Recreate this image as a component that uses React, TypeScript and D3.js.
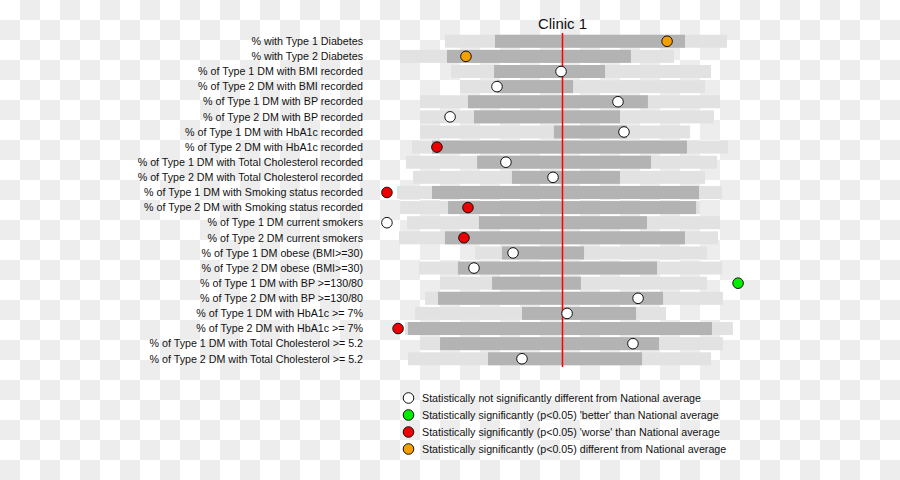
import React from "react";
import * as d3 from "d3";

const indicators: string[] = [
  "% with Type 1 Diabetes",
  "% with Type 2 Diabetes",
  "% of Type 1 DM with BMI recorded",
  "% of Type 2 DM with BMI recorded",
  "% of Type 1 DM with BP recorded",
  "% of Type 2 DM with BP recorded",
  "% of Type 1 DM with HbA1c recorded",
  "% of Type 2 DM with HbA1c recorded",
  "% of Type 1 DM with Total Cholesterol recorded",
  "% of Type 2 DM with Total Cholesterol recorded",
  "% of Type 1 DM with Smoking status recorded",
  "% of Type 2 DM with Smoking status recorded",
  "% of Type 1 DM current smokers",
  "% of Type 2 DM current smokers",
  "% of Type 1 DM obese (BMI>=30)",
  "% of Type 2 DM obese (BMI>=30)",
  "% of Type 1 DM with BP >=130/80",
  "% of Type 2 DM with BP >=130/80",
  "% of Type 1 DM with HbA1c >= 7%",
  "% of Type 2 DM with HbA1c >= 7%",
  "% of Type 1 DM with Total Cholesterol >= 5.2",
  "% of Type 2 DM with Total Cholesterol >= 5.2",
];

// Scaled values: national average = 0
const rangeLow: number[] = [-64.4, -89.0, -61.1, -56.2, -78.1, -78.1, -78.1, -82.5, -85.8, -81.9, -90.7, -89.0, -85.2, -89.6, -47.9, -78.6, -67.1, -75.3, -80.8, -86.3, -78.1, -84.7];
const rangeHigh: number[] = [90.1, 61.1, 81.4, 78.1, 86.3, 83.0, 69.9, 90.7, 84.7, 78.1, 87.4, 75.3, 86.3, 85.2, 79.2, 87.4, 79.2, 87.9, 56.7, 93.4, 87.9, 81.4];
const iqrLow: number[] = [-37.0, -63.3, -37.5, -35.9, -51.8, -48.5, -4.7, -71.5, -46.8, -27.7, -71.5, -62.7, -45.8, -64.4, -33.2, -57.3, -38.6, -68.2, -22.2, -84.7, -67.1, -40.8];
const iqrHigh: number[] = [67.1, 37.5, 23.3, 5.8, 46.8, 31.5, 35.3, 68.2, 48.5, 31.5, 74.8, 73.2, 46.3, 67.1, 11.8, 51.8, 10.1, 55.1, 40.3, 81.9, 52.9, 43.6];
const clinicValue: number[] = [57.3, -52.9, -0.8, -35.9, 30.4, -61.6, 33.7, -68.8, -31.0, -5.2, -96.2, -51.8, -96.2, -54.0, -27.1, -48.5, 96.2, 41.4, 2.5, -90.1, 38.6, -22.2];
// n = not significant, b = better, w = worse, d = different
const significance: string[] = ["d", "d", "n", "n", "n", "n", "n", "w", "n", "n", "w", "w", "n", "w", "n", "n", "b", "n", "n", "w", "n", "n"];

const legendKeys: string[] = ["n", "b", "w", "d"];
const legendLabels: string[] = [
  "Statistically not significantly different from National average",
  "Statistically significantly (p<0.05) 'better' than National average",
  "Statistically significantly (p<0.05) 'worse' than National average",
  "Statistically significantly (p<0.05) different from National average",
];
const sigColors: Record<string, string> = { n: "#ffffff", b: "#00ee00", w: "#ee0000", d: "#f5a000" };

const W = 900;
const H = 480;
const FONT = "'Liberation Sans', Arial, sans-serif";

export default function App() {
  const x = d3.scaleLinear().domain([-100, 100]).range([380, 745]);
  const y = d3
    .scaleBand<string>()
    .domain(indicators)
    .range([33.7, 33.7 + 22 * 15.12])
    .paddingInner(0.14)
    .paddingOuter(0.07);
  const bw = y.bandwidth();
  const legendY = d3.scalePoint<string>().domain(legendKeys).range([398, 449]);

  const cells: { cx: number; cy: number }[] = [];
  for (let i = 0; i < W / 20; i++)
    for (let j = 0; j < H / 20; j++) if ((i + j) % 2 === 1) cells.push({ cx: i * 20, cy: j * 20 });

  return (
    <svg
      width={W}
      height={H}
      style={{ position: "absolute", left: 0, top: 0, display: "block" }}
      fontFamily={FONT}
    >
      <rect x={0} y={0} width={W} height={H} fill="#ffffff" />
      {cells.map((c, k) => (
        <rect key={k} x={c.cx} y={c.cy} width={20} height={20} fill="#ededed" />
      ))}
      {indicators.map((name, i) => {
        const yy = y(name) as number;
        return (
          <g key={name}>
            <rect x={x(rangeLow[i])} y={yy} width={x(rangeHigh[i]) - x(rangeLow[i])} height={bw} fill="#e2e2e2" />
            <rect x={x(iqrLow[i])} y={yy} width={x(iqrHigh[i]) - x(iqrLow[i])} height={bw} fill="#b3b3b3" />
            <text x={363} y={yy + bw / 2} dy="0.35em" textAnchor="end" fontSize={10.7} fill="#111">
              {name}
            </text>
          </g>
        );
      })}
      <line x1={x(0)} x2={x(0)} y1={33} y2={367} stroke="#ff0000" strokeWidth={1.5} />
      {indicators.map((name, i) => (
        <circle
          key={name}
          cx={x(clinicValue[i])}
          cy={(y(name) as number) + bw / 2}
          r={5.3}
          fill={sigColors[significance[i]]}
          stroke="#111"
          strokeWidth={1}
        />
      ))}
      <text x={x(0)} y={29} textAnchor="middle" fontSize={15} fill="#111">
        Clinic 1
      </text>
      {legendKeys.map((k, i) => (
        <g key={k}>
          <circle cx={408.5} cy={legendY(k)} r={5.3} fill={sigColors[k]} stroke="#111" strokeWidth={1} />
          <text x={422} y={legendY(k)} dy="0.35em" fontSize={10.7} fill="#111">
            {legendLabels[i]}
          </text>
        </g>
      ))}
    </svg>
  );
}
